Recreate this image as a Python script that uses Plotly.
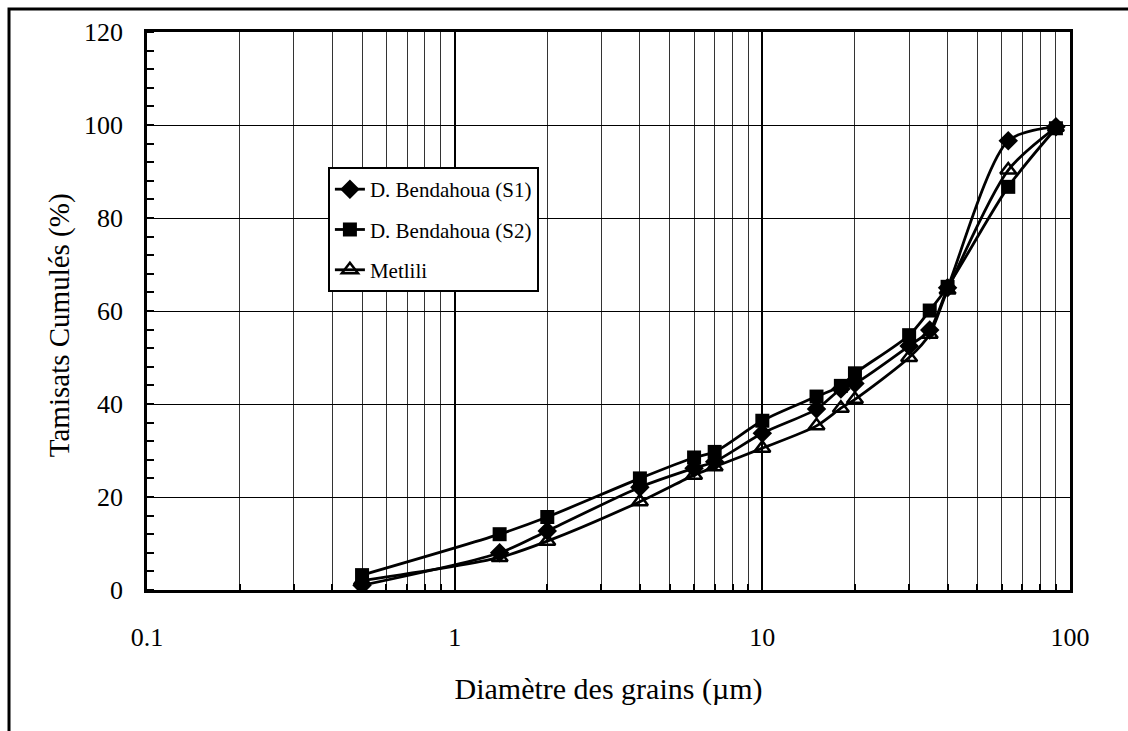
import plotly.graph_objects as go

# Grain-size distribution (cumulative passing, %)
diametre = [0.5, 1.4, 2, 4, 6, 7, 10, 15, 18, 20, 30, 35, 40, 63, 90]
bendahoua_s1 = [1.0, 8.0, 12.7, 22.1, 26.2, 27.6, 33.7, 38.9, 43.2, 44.4, 52.5, 55.9, 65.0, 96.6, 99.6]
bendahoua_s2 = [3.2, 12.0, 15.7, 24.0, 28.5, 29.7, 36.4, 41.6, 43.9, 46.6, 54.8, 60.1, 65.2, 86.7, 99.3]
metlili = [2.0, 7.0, 10.5, 19.0, 24.7, 26.5, 30.5, 35.3, 39.1, 41.0, 50.0, 55.0, 64.5, 90.3, 99.5]

x_tickvals = [0.1, 1, 10, 100]
x_ticktext = ["0.1", "1", "10", "100"]
x_minor = [m * 10 ** e for e in (-1, 0, 1) for m in range(2, 10)]
y_ticks = [0, 20, 40, 60, 80, 100, 120]

FONT = "Times New Roman"

fig = go.Figure()

series = [
    ("Metlili", metlili, dict(symbol="triangle-up-open", size=14, color="black",
                              line=dict(color="black", width=2.5)), 3),
    ("D. Bendahoua (S1)", bendahoua_s1, dict(symbol="diamond", size=15, color="black"), 1),
    ("D. Bendahoua (S2)", bendahoua_s2, dict(symbol="square", size=14, color="black"), 2),
]
for name, vals, marker, rank in series:
    fig.add_trace(go.Scatter(
        x=diametre, y=vals, name=name, mode="lines+markers",
        line=dict(color="black", width=2.8, shape="spline", smoothing=0.8),
        marker=marker, legendrank=rank, legendgroup=name,
    ))

fig.update_layout(
    width=1128, height=731,
    margin=dict(l=147, r=58, t=32, b=141),
    paper_bgcolor="white", plot_bgcolor="white",
    font=dict(family=FONT, color="black", size=24),
    showlegend=True,
    legend=dict(
        x=0.196, y=0.758, xanchor="left", yanchor="top",
        bgcolor="white", bordercolor="black", borderwidth=2,
        font=dict(family=FONT, size=21, color="black"),
        tracegroupgap=10,
    ),
    shapes=[dict(
        type="rect", xref="paper", yref="paper",
        x0=-0.1495, x1=1.5, y0=-1.0, y1=1.0412,
        line=dict(color="black", width=3), fillcolor="rgba(0,0,0,0)", layer="below",
    )],
    annotations=[dict(
        text="Tamisats Cumulés (%)", textangle=-90,
        xref="paper", yref="paper", x=-0.0940, y=0.475,
        xanchor="center", yanchor="middle", showarrow=False,
        font=dict(family=FONT, size=29, color="black"),
    )],
)

fig.update_xaxes(
    type="log", range=[-1, 2],
    tickmode="array", tickvals=x_tickvals, ticktext=x_ticktext,
    ticks="", ticklabelstandoff=22,
    tickfont=dict(family=FONT, size=26),
    showgrid=True, gridcolor="black", gridwidth=2,
    minor=dict(tickmode="array", tickvals=x_minor, ticks="inside", ticklen=6,
               tickwidth=2, tickcolor="black",
               showgrid=True, gridcolor="#333333", gridwidth=1),
    showline=True, linecolor="black", linewidth=2.5, mirror=True,
    zeroline=False,
    title=dict(text="Diamètre des grains (µm)", font=dict(family=FONT, size=30), standoff=28),
)
fig.update_yaxes(
    range=[0, 120], tickmode="array", tickvals=y_ticks,
    ticks="", ticklabelstandoff=16,
    tickfont=dict(family=FONT, size=26),
    showgrid=True, gridcolor="black", gridwidth=1,
    minor=dict(dtick=4, ticks="inside", ticklen=7, tickwidth=2, tickcolor="black",
               showgrid=False),
    showline=True, linecolor="black", linewidth=2.5, mirror=True,
    zeroline=False,
)

fig.write_html("out.html")
